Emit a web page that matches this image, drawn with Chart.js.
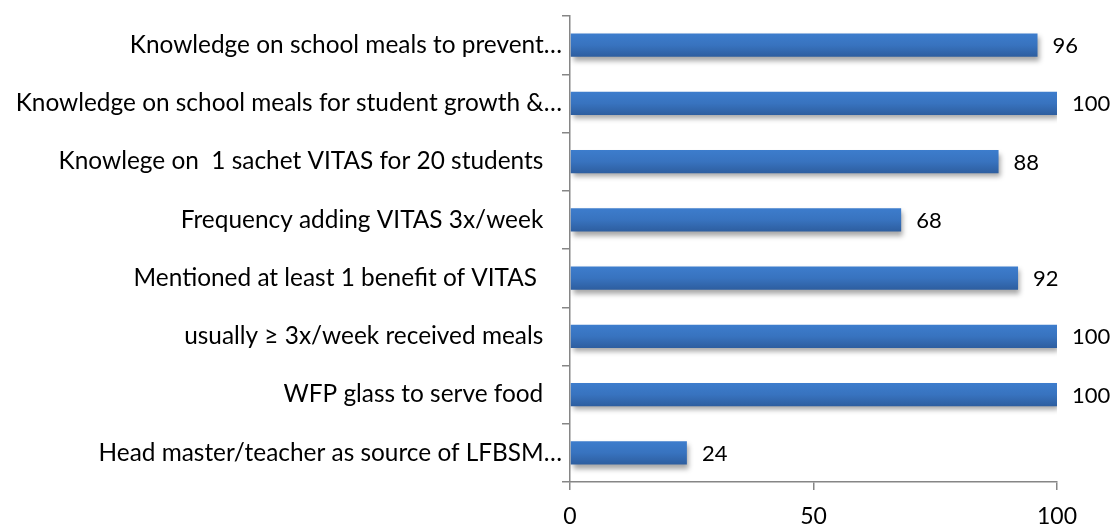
<!DOCTYPE html>
<html>
<head>
<meta charset="utf-8">
<script src="https://cdn.jsdelivr.net/npm/chart.js@4"></script>
<style>
  html, body { margin: 0; padding: 0; background: #ffffff; }
  #wrap { width: 1115px; height: 524px; position: relative; }
</style>
</head>
<body>
<div id="wrap"><canvas id="c" width="1115" height="524"></canvas></div>
<script>
// Survey indicators (percent of respondents), listed top to bottom
const categories = [
  "Knowledge on school meals to prevent\u2026",
  "Knowledge on school meals for student growth &\u2026",
  "Knowlege on  1 sachet VITAS for 20 students   ",
  "Frequency adding VITAS 3x/week   ",
  "Mentioned at least 1 benefit of VITAS    ",
  "usually \u2265 3x/week received meals   ",
  "WFP glass to serve food   ",
  "Head master/teacher as source of LFBSM\u2026"
];
const values = [96, 100, 88, 68, 92, 100, 100, 24];
const xTicks = [0, 50, 100];

const FONT = "Lato, 'Open Sans', sans-serif";
const AXIS_GREY = '#868686';

// Vertical blue gradient for each bar
function barFill(c) {
  const chart = c.chart;
  const y = chart.scales && chart.scales.y;
  if (!y || y.top === undefined || isNaN(y.getPixelForValue(c.dataIndex))) return '#3a72bd';
  const yc = y.getPixelForValue(c.dataIndex);
  const g = chart.ctx.createLinearGradient(0, yc - 12, 0, yc + 12);
  g.addColorStop(0, '#3d7dcd');
  g.addColorStop(0.5, '#3873bf');
  g.addColorStop(1, '#2d5d9e');
  return g;
}

// Soft drop shadow under the bars
const barShadow = {
  id: 'barShadow',
  beforeDatasetsDraw(chart) {
    const ctx = chart.ctx;
    ctx.save();
    ctx.shadowColor = 'rgba(0,0,0,0.35)';
    ctx.shadowBlur = 5;
    ctx.shadowOffsetX = 2;
    ctx.shadowOffsetY = 4;
  },
  afterDatasetsDraw(chart) {
    chart.ctx.restore();
  }
};

// Value printed to the right of each bar
const valueLabels = {
  id: 'valueLabels',
  afterDatasetsDraw(chart) {
    const ctx = chart.ctx;
    const meta = chart.getDatasetMeta(0);
    ctx.save();
    ctx.font = '22px ' + FONT;
    ctx.fillStyle = '#000000';
    ctx.textAlign = 'left';
    ctx.textBaseline = 'middle';
    meta.data.forEach((bar, i) => {
      ctx.fillText(String(values[i]), bar.x + 15, bar.y + 1);
    });
    ctx.restore();
  }
};

new Chart(document.getElementById('c'), {
  type: 'bar',
  data: {
    labels: categories,
    datasets: [{
      data: values,
      backgroundColor: barFill,
      borderWidth: 0,
      categoryPercentage: 1.0,
      barPercentage: 0.4
    }]
  },
  options: {
    indexAxis: 'y',
    responsive: false,
    animation: false,
    devicePixelRatio: 1,
    layout: { padding: { top: 16, right: 58, left: 0, bottom: 0 } },
    plugins: {
      legend: { display: false },
      tooltip: { enabled: false }
    },
    scales: {
      x: {
        min: 0,
        max: 100,
        afterBuildTicks(scale) { scale.ticks = xTicks.map(v => ({ value: v })); },
        afterFit(scale) { scale.height = 42; },
        grid: { drawOnChartArea: false, drawTicks: true, tickLength: 8, color: AXIS_GREY, lineWidth: 1.5 },
        border: { color: AXIS_GREY, width: 1.5 },
        ticks: { color: '#000000', font: { family: FONT, size: 23 }, padding: 13, maxRotation: 0 }
      },
      y: {
        afterFit(scale) { scale.width = 570; },
        grid: { drawOnChartArea: false, drawTicks: true, tickLength: 8, color: AXIS_GREY, lineWidth: 1.5, offset: true },
        border: { color: AXIS_GREY, width: 1.5 },
        ticks: { color: '#000000', font: { family: FONT, size: 24.4 }, padding: 0, autoSkip: false }
      }
    }
  },
  plugins: [barShadow, valueLabels]
});
</script>
</body>
</html>
